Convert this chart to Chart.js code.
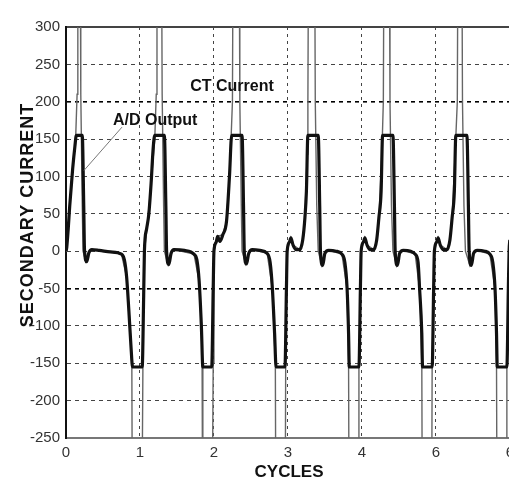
<!DOCTYPE html>
<html>
<head>
<meta charset="utf-8">
<script src="https://cdn.jsdelivr.net/npm/chart.js@4"></script>
<style>
  html, body { margin: 0; padding: 0; background: #fff; overflow: hidden; }
  #wrap { position: relative; width: 520px; height: 478px; }
</style>
</head>
<body>
<div id="wrap"><canvas id="grafico"></canvas></div>
<script>
// A/D output (saída clampada em +-155)
const adPontos = [
  [0.00,0],[0.01,5],[0.03,30],[0.05,60],[0.09,110],[0.12,140],[0.14,155],[0.22,155],[0.24,60],[0.25,2],
  [0.28,-14],[0.31,-2],[0.35,2],[0.45,1],[0.60,-1],[0.75,-4],[0.79,-12],[0.82,-35],[0.85,-80],[0.88,-130],
  [0.90,-155],[1.03,-155],[1.05,-60],[1.06,0],[1.09,30],[1.12,50],[1.15,90],[1.18,140],[1.20,155],[1.33,155],
  [1.35,60],[1.36,0],[1.39,-18],[1.42,-3],[1.46,2],[1.60,1],[1.73,-4],[1.77,-12],[1.80,-40],[1.83,-100],
  [1.85,-155],[1.97,-155],[1.99,-50],[2.00,0],[2.03,12],[2.05,20],[2.08,13],[2.12,22],[2.17,40],[2.21,100],
  [2.24,155],[2.38,155],[2.40,60],[2.41,0],[2.44,-17],[2.47,-3],[2.52,2],[2.62,1],[2.72,-3],[2.76,-15],
  [2.79,-50],[2.82,-110],[2.84,-155],[2.96,-155],[2.98,-50],[2.99,0],[3.02,12],[3.04,18],[3.07,8],[3.11,2],
  [3.16,2],[3.20,15],[3.23,45],[3.25,80],[3.27,155],[3.41,155],[3.43,60],[3.44,0],[3.47,-19],[3.50,-3],
  [3.55,1],[3.65,0],[3.73,-4],[3.77,-15],[3.80,-50],[3.82,-110],[3.83,-155],[3.96,-155],[3.98,-50],[3.99,0],
  [4.02,12],[4.04,18],[4.07,8],[4.11,2],[4.16,2],[4.20,15],[4.23,45],[4.26,80],[4.28,155],[4.42,155],
  [4.44,60],[4.45,0],[4.48,-19],[4.51,-3],[4.56,1],[4.66,0],[4.72,-4],[4.76,-15],[4.78,-50],[4.81,-110],
  [4.82,-155],[4.95,-155],[4.97,-50],[4.98,0],[5.01,12],[5.03,18],[5.06,8],[5.10,2],[5.15,2],[5.19,15],
  [5.22,45],[5.25,80],[5.27,155],[5.42,155],[5.44,60],[5.45,0],[5.48,-19],[5.51,-3],[5.56,1],[5.66,0],
  [5.73,-4],[5.77,-15],[5.80,-50],[5.82,-110],[5.83,-155],[5.96,-155],[5.98,-50],[5.99,0],[6.00,15]
];

// CT current (sem clamp, picos saem do gráfico)
const ctPontos = [
  [0.00,0],[0.01,5],[0.05,60],[0.09,110],[0.13,150],[0.15,210],[0.16,450],[0.19,450],[0.20,210],[0.22,60],
  [0.23,0],[0.27,-14],[0.31,-2],[0.35,2],[0.60,-1],[0.75,-4],[0.82,-35],[0.86,-90],[0.89,-150],[0.90,-450],
  [1.02,-450],[1.04,-150],[1.05,-40],[1.06,0],[1.10,35],[1.15,90],[1.20,150],[1.22,210],[1.23,450],[1.29,450],
  [1.30,210],[1.32,60],[1.33,0],[1.38,-18],[1.42,-3],[1.46,2],[1.73,-4],[1.80,-40],[1.83,-100],[1.84,-150],
  [1.85,-450],[1.97,-450],[1.99,-150],[2.00,0],[2.05,20],[2.12,22],[2.17,40],[2.22,120],[2.25,200],[2.26,450],
  [2.34,450],[2.35,200],[2.37,60],[2.38,0],[2.43,-17],[2.47,-3],[2.52,2],[2.72,-3],[2.79,-50],[2.83,-150],
  [2.84,-450],[2.96,-450],[2.97,-150],[2.99,0],[3.04,18],[3.07,8],[3.16,2],[3.20,15],[3.23,45],[3.26,130],
  [3.27,200],[3.28,450],[3.36,450],[3.37,200],[3.39,60],[3.41,0],[3.46,-19],[3.50,-3],[3.55,1],[3.73,-4],
  [3.80,-50],[3.82,-150],[3.83,-450],[3.95,-450],[3.96,-150],[3.99,0],[4.04,18],[4.07,8],[4.16,2],[4.20,15],
  [4.23,45],[4.27,130],[4.29,200],[4.30,450],[4.37,450],[4.38,200],[4.40,60],[4.42,0],[4.47,-19],[4.51,-3],
  [4.56,1],[4.72,-4],[4.78,-50],[4.81,-150],[4.82,-450],[4.94,-450],[4.95,-150],[4.98,0],[5.03,18],[5.06,8],
  [5.15,2],[5.19,15],[5.22,45],[5.26,130],[5.29,200],[5.30,450],[5.35,450],[5.36,200],[5.38,60],[5.40,0],
  [5.46,-19],[5.51,-3],[5.56,1],[5.73,-4],[5.80,-50],[5.82,-150],[5.83,-450],[5.95,-450],[5.96,-150],[5.99,0],
  [6.00,10]
];

const xRotulos = ['0', '1', '2', '3', '4', '6', '6'];
const yMin = -250;
const yMax = 300;

// textos do gráfico (posição em unidades dos eixos)
const notas = [
  { texto: 'CT Current', x: 1.68, y: 215 },
  { texto: 'A/D Output', x: 0.635, y: 169 }
];
const seta = [[0.757, 166], [0.243, 108]];

const fonteTicks = '"Liberation Sans Narrow", "Arial Narrow", "Liberation Sans", sans-serif';

const decoracao = {
  id: 'decoracao',
  afterDraw(chart) {
    const { ctx, scales: { x, y } } = chart;
    ctx.save();

    // linha de chamada
    ctx.strokeStyle = '#777';
    ctx.lineWidth = 1;
    ctx.beginPath();
    ctx.moveTo(x.getPixelForValue(seta[0][0]), y.getPixelForValue(seta[0][1]));
    ctx.lineTo(x.getPixelForValue(seta[1][0]), y.getPixelForValue(seta[1][1]));
    ctx.stroke();

    ctx.fillStyle = '#111';
    ctx.font = 'bold 16px "Liberation Sans", Arial, sans-serif';
    ctx.textAlign = 'left';
    ctx.textBaseline = 'alphabetic';
    notas.forEach(n => {
      ctx.fillText(n.texto, x.getPixelForValue(n.x), y.getPixelForValue(n.y));
    });

    // títulos dos eixos
    ctx.font = 'bold 17px "Liberation Sans", Arial, sans-serif';
    ctx.textAlign = 'center';
    ctx.fillText('CYCLES', 289, 477);

    ctx.translate(33, 215);
    ctx.rotate(-Math.PI / 2);
    ctx.font = 'bold 18px "Liberation Sans", Arial, sans-serif';
    ctx.letterSpacing = '1px';
    ctx.fillText('SECONDARY CURRENT', 0, 0);
    ctx.restore();
  }
};

const ctx = document.getElementById('grafico').getContext('2d');
new Chart(ctx, {
  type: 'line',
  data: {
    datasets: [{
      label: 'A/D Output',
      data: adPontos.map(p => ({ x: p[0], y: p[1] })),
      borderColor: '#111',
      borderWidth: 3.2,
      pointRadius: 0,
      cubicInterpolationMode: 'monotone'
    }, {
      label: 'CT Current',
      data: ctPontos.map(p => ({ x: p[0], y: p[1] })),
      borderColor: '#666',
      borderWidth: 1.4,
      pointRadius: 0,
      tension: 0
    }]
  },
  options: {
    responsive: true,
    maintainAspectRatio: false,
    animation: false,
    layout: { padding: { left: 0, right: 10, top: 27, bottom: 0 } },
    scales: {
      x: {
        type: 'linear',
        min: 0,
        max: 6,
        afterFit: s => { s.height = 40; },
        ticks: {
          stepSize: 1,
          autoSkip: false,
          maxRotation: 0,
          padding: 6,
          color: '#333',
          font: { family: fonteTicks, size: 15 },
          callback: v => xRotulos[v]
        },
        grid: {
          drawTicks: false,
          color: c => (c.tick && c.tick.value === 0) ? 'rgba(0,0,0,0)' : '#444',
          lineWidth: 1
        },
        border: { display: true, color: '#777', width: 2, dash: [3, 4] }
      },
      y: {
        min: yMin,
        max: yMax,
        afterFit: s => { s.width = 66; },
        ticks: {
          stepSize: 50,
          autoSkip: false,
          padding: 6,
          color: '#333',
          font: { family: fonteTicks, size: 15 }
        },
        grid: {
          drawTicks: false,
          color: c => {
            const v = c.tick ? c.tick.value : null;
            if (v === 200 || v === -50) return '#000';
            return '#444';
          },
          lineWidth: c => {
            const v = c.tick ? c.tick.value : null;
            if (v === yMax) return 2;
            if (v === 200 || v === -50) return 1.6;
            return 1;
          }
        },
        border: {
          display: true,
          color: '#111',
          width: 2,
          dash: c => (c.tick && c.tick.value === yMax) ? [] : [4, 4]
        }
      }
    },
    plugins: {
      legend: { display: false },
      tooltip: { enabled: false }
    }
  },
  plugins: [decoracao]
});
</script>
</body>
</html>
